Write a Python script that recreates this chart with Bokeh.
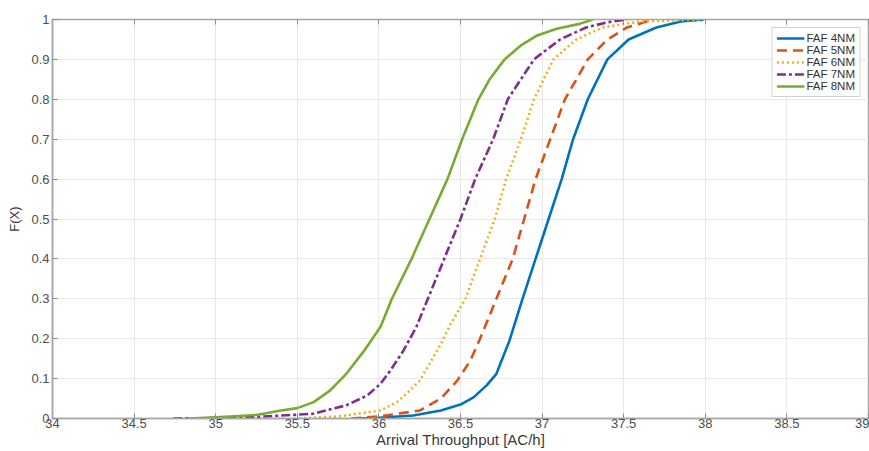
from bokeh.plotting import figure
from bokeh.models import LinearAxis, Legend, LegendItem, FixedTicker, Range1d
from bokeh.embed import file_html
from bokeh.resources import INLINE

# ---- data ----
x_4nm = [35.87, 36.0, 36.21, 36.38, 36.50, 36.58, 36.66, 36.72, 36.80, 36.88, 36.96, 37.04, 37.12, 37.19, 37.28, 37.40, 37.53, 37.70, 37.85, 37.99]
f_4nm = [0, 0.002, 0.0075, 0.02, 0.035, 0.053, 0.083, 0.112, 0.195, 0.3, 0.4, 0.5, 0.6, 0.7, 0.8, 0.9, 0.95, 0.98, 0.995, 1.0]

x_5nm = [35.83, 36.0, 36.25, 36.38, 36.48, 36.56, 36.62, 36.72, 36.82, 36.89, 36.96, 37.05, 37.14, 37.28, 37.40, 37.52, 37.68]
f_5nm = [0, 0.005, 0.02, 0.05, 0.095, 0.145, 0.2, 0.3, 0.4, 0.5, 0.6, 0.7, 0.8, 0.9, 0.95, 0.98, 1.0]

x_6nm = [35.48, 35.75, 36.01, 36.11, 36.19, 36.25, 36.31, 36.38, 36.44, 36.53, 36.62, 36.71, 36.78, 36.87, 36.95, 37.07, 37.21, 37.37, 37.6, 37.97]
f_6nm = [0, 0.005, 0.02, 0.041, 0.07, 0.095, 0.137, 0.187, 0.237, 0.3, 0.4, 0.5, 0.6, 0.7, 0.8, 0.9, 0.95, 0.98, 0.995, 1.0]

x_7nm = [34.74, 35.0, 35.25, 35.60, 35.80, 35.93, 36.01, 36.07, 36.15, 36.23, 36.30, 36.40, 36.50, 36.59, 36.70, 36.79, 36.95, 37.11, 37.27, 37.4, 37.52]
f_7nm = [0, 0.001, 0.004, 0.012, 0.033, 0.058, 0.087, 0.12, 0.17, 0.23, 0.3, 0.4, 0.5, 0.6, 0.7, 0.8, 0.9, 0.95, 0.98, 0.993, 1.0]

x_8nm = [34.83, 35.0, 35.25, 35.40, 35.50, 35.60, 35.70, 35.80, 35.91, 36.01, 36.08, 36.20, 36.31, 36.42, 36.51, 36.61, 36.68, 36.77, 36.87, 36.97, 37.09, 37.23, 37.31]
f_8nm = [0, 0.003, 0.009, 0.02, 0.026, 0.041, 0.07, 0.112, 0.17, 0.23, 0.3, 0.4, 0.5, 0.6, 0.7, 0.8, 0.851, 0.9, 0.935, 0.96, 0.977, 0.989, 1.0]

labels = ["FAF 4NM", "FAF 5NM", "FAF 6NM", "FAF 7NM", "FAF 8NM"]
x_ticks = [34, 34.5, 35, 35.5, 36, 36.5, 37, 37.5, 38, 38.5, 39]
y_ticks = [0, 0.1, 0.2, 0.3, 0.4, 0.5, 0.6, 0.7, 0.8, 0.9, 1]

FONT = "Liberation Sans"

p = figure(width=869, height=451, output_backend="svg", toolbar_location=None,
           x_range=Range1d(34, 39), y_range=Range1d(0, 1),
           min_border_left=52, min_border_right=1, min_border_top=19, min_border_bottom=33)
p.outline_line_color = "#a6a6a6"
p.outline_line_width = 1.5
p.background_fill_color = "white"
p.border_fill_color = "white"

for ax in (p.xaxis[0], p.yaxis[0]):
    ax.axis_line_color = "#a6a6a6"
    ax.axis_line_width = 1.5
    ax.major_tick_in = 5
    ax.major_tick_out = 0
    ax.major_tick_line_color = "#8c8c8c"
    ax.minor_tick_line_color = None
    ax.major_label_text_font = FONT
    ax.major_label_text_font_size = "13px"
    ax.major_label_text_color = "#4d4d4d"
    ax.axis_label_text_font = FONT
    ax.axis_label_text_font_style = "normal"
    ax.axis_label_text_color = "#3a3a3a"

p.xaxis.ticker = FixedTicker(ticks=x_ticks)
p.yaxis.ticker = FixedTicker(ticks=y_ticks)
p.xaxis.major_label_overrides = {t: ("%g" % t) for t in x_ticks}
p.yaxis.major_label_overrides = {t: ("%g" % t) for t in y_ticks}
p.xaxis.major_label_standoff = 0
p.yaxis.major_label_standoff = 3
p.xaxis.axis_label = "Arrival Throughput [AC/h]"
p.yaxis.axis_label = "F(X)"
p.xaxis.axis_label_text_font_size = "15px"
p.yaxis.axis_label_text_font_size = "13px"
p.xaxis.axis_label_standoff = 0
p.yaxis.axis_label_standoff = 6

top = LinearAxis(ticker=FixedTicker(ticks=x_ticks),
                 major_label_overrides={t: "" for t in x_ticks},
                 major_label_standoff=0,
                 major_tick_in=5, major_tick_out=0, major_tick_line_color="#8c8c8c",
                 minor_tick_line_color=None, axis_line_color="#a6a6a6")
p.add_layout(top, "above")

p.xgrid.ticker = FixedTicker(ticks=x_ticks)
p.ygrid.ticker = FixedTicker(ticks=y_ticks)
p.grid.grid_line_color = "#e8e8e8"
p.grid.grid_line_width = 1

series = [
    (x_4nm, f_4nm, "#0072BD", "solid"),
    (x_5nm, f_5nm, "#D95319", "10 6"),
    (x_6nm, f_6nm, "#EDB120", "2 3"),
    (x_7nm, f_7nm, "#7E2F8E", "9 3 3 3"),
    (x_8nm, f_8nm, "#77AC30", "solid"),
]
items = []
for (xs, fs, col, dash), lab in zip(series, labels):
    r = p.line(xs, fs, line_color=col, line_width=2.6, line_dash=dash)
    items.append(LegendItem(label=lab, renderers=[r]))

legend = Legend(items=items, location="top_right")
legend.margin = 8
legend.padding = 4
legend.spacing = -1
legend.glyph_width = 28
legend.glyph_height = 10
legend.label_height = 10
legend.label_standoff = 2
legend.label_text_font = FONT
legend.label_text_font_size = "11.5px"
legend.label_text_color = "#333333"
legend.border_line_color = "#a6a6a6"
legend.border_line_width = 1
legend.background_fill_alpha = 1
p.add_layout(legend)

open("out.html", "w").write(file_html(p, INLINE))
